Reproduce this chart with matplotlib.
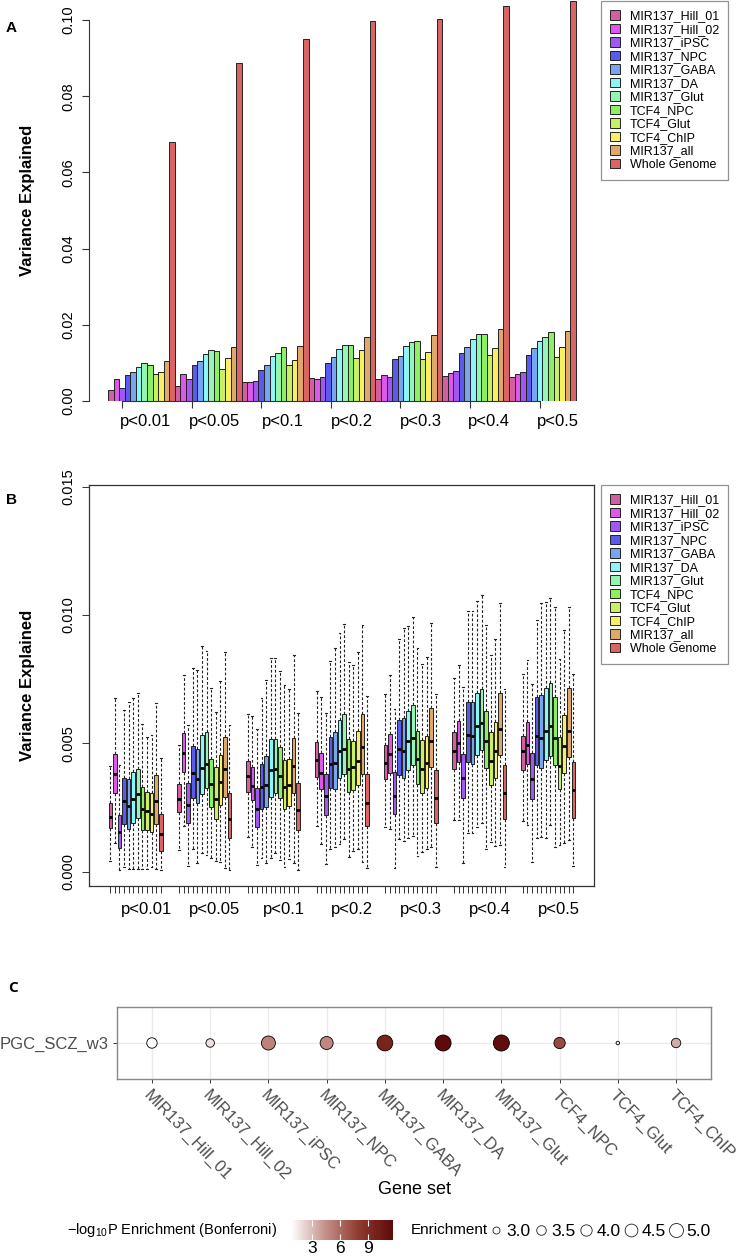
import numpy as np
import matplotlib
matplotlib.use("Agg")
import matplotlib.pyplot as plt
from matplotlib.colors import LinearSegmentedColormap, Normalize
from matplotlib.lines import Line2D
from matplotlib.patches import Patch

plt.rcParams["font.family"] = ["Liberation Sans", "DejaVu Sans"]
plt.rcParams["mathtext.fontset"] = "custom"
plt.rcParams["mathtext.rm"] = "Liberation Sans"

# ---- data -------------------------------------------------------------
thresholds = ["p<0.01", "p<0.05", "p<0.1", "p<0.2", "p<0.3", "p<0.4", "p<0.5"]
gene_sets = ["MIR137_Hill_01", "MIR137_Hill_02", "MIR137_iPSC", "MIR137_NPC",
             "MIR137_GABA", "MIR137_DA", "MIR137_Glut", "TCF4_NPC",
             "TCF4_Glut", "TCF4_ChIP", "MIR137_all", "Whole Genome"]
set_colors = ["#D35FA0", "#DD58E8", "#A058F0", "#5A5AEE", "#78A5F0", "#8CF5F5",
              "#95F5B2", "#8CF062", "#C8F062", "#F8F062", "#E0A868", "#D86464"]

# panel A: variance explained, one row per threshold
var_p001 = [0.0029, 0.0059, 0.0035, 0.0067, 0.0075, 0.0090, 0.0099, 0.0094, 0.0070, 0.0075, 0.0104, 0.0680]
var_p005 = [0.0039, 0.0070, 0.0058, 0.0095, 0.0104, 0.0124, 0.0134, 0.0130, 0.0083, 0.0114, 0.0143, 0.0887]
var_p01 = [0.0051, 0.0049, 0.0053, 0.0081, 0.0095, 0.0119, 0.0125, 0.0141, 0.0094, 0.0107, 0.0144, 0.0949]
var_p02 = [0.0060, 0.0057, 0.0063, 0.0100, 0.0116, 0.0136, 0.0146, 0.0146, 0.0113, 0.0134, 0.0167, 0.0997]
var_p03 = [0.0058, 0.0067, 0.0062, 0.0110, 0.0117, 0.0145, 0.0156, 0.0157, 0.0111, 0.0128, 0.0173, 0.1002]
var_p04 = [0.0065, 0.0073, 0.0078, 0.0125, 0.0143, 0.0162, 0.0175, 0.0177, 0.0120, 0.0138, 0.0188, 0.1038]
var_p05 = [0.0063, 0.0072, 0.0077, 0.0122, 0.0139, 0.0157, 0.0168, 0.0180, 0.0115, 0.0143, 0.0184, 0.1049]

# panel B: box statistics (rows = thresholds, cols = gene sets)
box_whishi = [
    [0.00412, 0.00678, 0.00416, 0.00630, 0.00661, 0.00675, 0.00695, 0.00574, 0.00526, 0.00532, 0.00658, 0.00443],
    [0.00492, 0.00766, 0.00570, 0.00792, 0.00784, 0.00877, 0.00860, 0.00714, 0.00622, 0.00744, 0.00855, 0.00571],
    [0.00613, 0.00606, 0.00555, 0.00678, 0.00747, 0.00831, 0.00831, 0.00782, 0.00727, 0.00712, 0.00843, 0.00618],
    [0.00705, 0.00682, 0.00617, 0.00822, 0.00870, 0.00929, 0.00965, 0.00816, 0.00804, 0.00857, 0.00961, 0.00684],
    [0.00691, 0.00766, 0.00632, 0.00905, 0.00948, 0.00957, 0.00992, 0.00870, 0.00809, 0.00835, 0.00970, 0.00691],
    [0.00753, 0.00803, 0.00721, 0.01017, 0.01017, 0.01056, 0.01078, 0.00961, 0.00842, 0.00905, 0.01045, 0.00710],
    [0.00770, 0.00825, 0.00730, 0.00981, 0.01045, 0.01049, 0.01065, 0.01029, 0.00829, 0.00942, 0.01032, 0.00769],
]
box_q3 = [
    [0.00266, 0.00457, 0.00219, 0.00365, 0.00362, 0.00387, 0.00401, 0.00329, 0.00310, 0.00305, 0.00377, 0.00223],
    [0.00340, 0.00539, 0.00344, 0.00490, 0.00478, 0.00531, 0.00542, 0.00439, 0.00409, 0.00455, 0.00523, 0.00308],
    [0.00431, 0.00409, 0.00327, 0.00418, 0.00451, 0.00516, 0.00516, 0.00484, 0.00435, 0.00438, 0.00522, 0.00344],
    [0.00504, 0.00464, 0.00379, 0.00523, 0.00545, 0.00591, 0.00613, 0.00516, 0.00510, 0.00549, 0.00613, 0.00381],
    [0.00494, 0.00536, 0.00387, 0.00591, 0.00597, 0.00626, 0.00649, 0.00549, 0.00513, 0.00530, 0.00636, 0.00394],
    [0.00542, 0.00587, 0.00458, 0.00662, 0.00660, 0.00695, 0.00712, 0.00627, 0.00542, 0.00582, 0.00695, 0.00416],
    [0.00530, 0.00584, 0.00461, 0.00682, 0.00688, 0.00717, 0.00734, 0.00682, 0.00523, 0.00610, 0.00714, 0.00426],
]
box_med = [
    [0.00212, 0.00379, 0.00153, 0.00275, 0.00256, 0.00282, 0.00301, 0.00242, 0.00235, 0.00223, 0.00275, 0.00145],
    [0.00284, 0.00461, 0.00260, 0.00386, 0.00362, 0.00405, 0.00419, 0.00343, 0.00283, 0.00349, 0.00400, 0.00205],
    [0.00373, 0.00335, 0.00244, 0.00331, 0.00336, 0.00396, 0.00399, 0.00373, 0.00329, 0.00336, 0.00412, 0.00239],
    [0.00435, 0.00386, 0.00295, 0.00418, 0.00425, 0.00468, 0.00477, 0.00400, 0.00406, 0.00431, 0.00487, 0.00269],
    [0.00425, 0.00457, 0.00296, 0.00477, 0.00471, 0.00509, 0.00519, 0.00438, 0.00399, 0.00425, 0.00509, 0.00288],
    [0.00470, 0.00500, 0.00364, 0.00532, 0.00530, 0.00568, 0.00578, 0.00510, 0.00429, 0.00470, 0.00556, 0.00308],
    [0.00470, 0.00494, 0.00361, 0.00530, 0.00522, 0.00549, 0.00568, 0.00522, 0.00413, 0.00490, 0.00549, 0.00318],
]
box_q1 = [
    [0.00169, 0.00308, 0.00091, 0.00184, 0.00166, 0.00188, 0.00209, 0.00164, 0.00164, 0.00153, 0.00186, 0.00081],
    [0.00232, 0.00387, 0.00188, 0.00288, 0.00266, 0.00301, 0.00325, 0.00251, 0.00204, 0.00260, 0.00292, 0.00131],
    [0.00309, 0.00279, 0.00173, 0.00244, 0.00251, 0.00292, 0.00308, 0.00286, 0.00243, 0.00256, 0.00308, 0.00162],
    [0.00368, 0.00321, 0.00221, 0.00325, 0.00321, 0.00364, 0.00381, 0.00312, 0.00316, 0.00338, 0.00381, 0.00179],
    [0.00360, 0.00383, 0.00225, 0.00377, 0.00364, 0.00396, 0.00416, 0.00340, 0.00308, 0.00327, 0.00409, 0.00191],
    [0.00400, 0.00426, 0.00286, 0.00426, 0.00419, 0.00455, 0.00474, 0.00405, 0.00338, 0.00366, 0.00455, 0.00204],
    [0.00396, 0.00419, 0.00283, 0.00416, 0.00403, 0.00435, 0.00452, 0.00416, 0.00321, 0.00386, 0.00448, 0.00210],
]
box_whislo = [
    [0.00043, 0.00113, 0.00006, 0.00017, 0.00010, 0.00010, 0.00010, 0.00010, 0.00010, 0.00019, 0.00010, 0.00006],
    [0.00084, 0.00178, 0.00022, 0.00087, 0.00032, 0.00071, 0.00065, 0.00052, 0.00043, 0.00039, 0.00013, 0.00006],
    [0.00136, 0.00094, 0.00026, 0.00055, 0.00032, 0.00055, 0.00071, 0.00045, 0.00019, 0.00048, 0.00032, 0.00006],
    [0.00178, 0.00108, 0.00029, 0.00088, 0.00094, 0.00108, 0.00127, 0.00056, 0.00081, 0.00088, 0.00039, 0.00013],
    [0.00175, 0.00166, 0.00016, 0.00126, 0.00121, 0.00130, 0.00140, 0.00062, 0.00078, 0.00087, 0.00094, 0.00019],
    [0.00201, 0.00201, 0.00032, 0.00152, 0.00152, 0.00175, 0.00188, 0.00087, 0.00117, 0.00100, 0.00104, 0.00017],
    [0.00197, 0.00182, 0.00036, 0.00132, 0.00136, 0.00130, 0.00182, 0.00094, 0.00104, 0.00113, 0.00123, 0.00022],
]

# panel C: enrichment of PGC SCZ wave 3 in the 10 gene sets
c_sets = gene_sets[:10]
c_trait = "PGC_SCZ_w3"
c_enrichment = [3.72, 3.26, 5.00, 4.59, 5.80, 5.90, 5.94, 3.99, 2.75, 3.46]
c_neglog10p = [0.75, 1.8, 5.0, 4.8, 9.7, 11.68, 11.4, 7.3, 1.3, 3.5]
size_breaks = [3.0, 3.5, 4.0, 4.5, 5.0]
color_breaks = [3, 6, 9]

# ---- layout helpers (figure pixels -> fractions) ----------------------
W, H = 736, 1258
fig = plt.figure(figsize=(W / 100, H / 100), dpi=100)


def rect(x0, y0, x1, y1):
    return [x0 / W, 1 - y1 / H, (x1 - x0) / W, (y1 - y0) / H]


AXC = "#333333"
n_sets = len(gene_sets)
n_thr = len(thresholds)

# ---- panel A: grouped bars --------------------------------------------
axA = fig.add_axes(rect(89.3, 0, 594.6, 401))
var_rows = [var_p001, var_p005, var_p01, var_p02, var_p03, var_p04, var_p05]
for g, row in enumerate(var_rows):
    xs = g * n_sets + np.arange(n_sets) + 0.5
    axA.bar(xs, row, width=1.0, color=set_colors, edgecolor="#222222", linewidth=0.7)
axA.set_xlim(-3.36, n_thr * n_sets + 3.36)
axA.set_ylim(0, 0.10525)
for s in ("top", "right"):
    axA.spines[s].set_visible(False)
tickA = 2.5 + 12.5 * np.arange(n_thr)
axA.spines["left"].set_bounds(0, 0.10)
axA.spines["bottom"].set_bounds(tickA[0], tickA[-1])
for s in ("left", "bottom"):
    axA.spines[s].set_color(AXC)
    axA.spines[s].set_linewidth(0.8)
axA.set_yticks(np.arange(0, 0.101, 0.02))
axA.set_yticklabels([f"{v:.2f}" for v in np.arange(0, 0.101, 0.02)],
                    rotation=90, va="center", fontsize=10.5)
axA.set_xticks(tickA)
axA.set_xticklabels([])
axA.tick_params(length=5, width=0.8, color=AXC, pad=5)
labposA = 6.8 + 12.33 * np.arange(n_thr)
for x, t in zip(labposA, thresholds):
    axA.annotate(t, (x, 0), xycoords=("data", "axes fraction"), xytext=(0, -14.5),
                 textcoords="offset points", ha="center", va="center", fontsize=12)
axA.set_ylabel("Variance Explained", fontsize=12, fontweight="bold")
axA.yaxis.set_label_coords(-0.108, 0.5)

# ---- panel B: grouped boxplots ----------------------------------------
axB = fig.add_axes(rect(89.3, 485, 594.3, 886))
stats, pos, fcs = [], [], []
for g in range(n_thr):
    for j in range(n_sets):
        stats.append(dict(whislo=box_whislo[g][j], q1=box_q1[g][j], med=box_med[g][j],
                          q3=box_q3[g][j], whishi=box_whishi[g][j]))
        pos.append(1 + 15 * g + j)
        fcs.append(set_colors[j])
bp = axB.bxp(stats, positions=pos, widths=0.78, capwidths=0.4, showfliers=False,
             patch_artist=True,
             boxprops=dict(edgecolor="#222222", linewidth=0.7),
             medianprops=dict(color="black", linewidth=2.0, solid_capstyle="butt"),
             whiskerprops=dict(color="#222222", linewidth=0.8, linestyle=(0, (2.5, 1.8))),
             capprops=dict(color="#222222", linewidth=0.8))
for patch, fc in zip(bp["boxes"], fcs):
    patch.set_facecolor(fc)
axB.set_xlim(-3.58, 106.58)
axB.set_ylim(-0.00056, 0.01506)
for s in axB.spines.values():
    s.set_color(AXC)
    s.set_linewidth(0.9)
axB.set_yticks([0, 0.005, 0.010, 0.015])
axB.set_yticklabels(["0.000", "0.005", "0.010", "0.015"], rotation=90, va="center",
                    fontsize=10.5)
axB.set_xticks(pos)
axB.set_xticklabels([])
axB.tick_params(length=5, width=0.7, color=AXC, pad=5)
labposB = 1 + 15 * np.arange(n_thr) + 7.8
for x, t in zip(labposB, thresholds):
    axB.annotate(t, (x, 0), xycoords=("data", "axes fraction"), xytext=(0, -17),
                 textcoords="offset points", ha="center", va="center", fontsize=12)
axB.set_ylabel("Variance Explained", fontsize=12, fontweight="bold")
axB.yaxis.set_label_coords(-0.108, 0.5)

# shared legends for A and B
handles = [Patch(facecolor=c, edgecolor="#222222", linewidth=0.7) for c in set_colors]
for top in (1, 485):
    leg = fig.legend(handles, gene_sets, loc="upper left",
                     bbox_to_anchor=(601 / W, 1 - top / H), fontsize=9,
                     frameon=True, fancybox=False, handlelength=0.75, handleheight=0.75,
                     handletextpad=0.8, labelspacing=0.12, borderpad=0.75,
                     borderaxespad=0)
    leg.get_frame().set_edgecolor("#777777")
    leg.get_frame().set_linewidth(0.9)

fig.text(6 / W, 1 - 28 / H, "A", fontsize=11, fontweight="bold", va="center")
fig.text(6 / W, 1 - 500 / H, "B", fontsize=11, fontweight="bold", va="center")

# ---- panel C: enrichment dot plot -------------------------------------
cmap = LinearSegmentedColormap.from_list("enr", ["#FFFFFF", "#C4918A", "#8E3A2E", "#5E0A0A"],
                                         N=256)
norm = Normalize(min(c_neglog10p), max(c_neglog10p))
emin, emax = min(c_enrichment), max(c_enrichment)


def dot_diam(v):
    # diameter in points, area-scaled like ggplot's scale_size
    t = np.clip((np.asarray(v) - emin) / (emax - emin), 0, 1)
    return (3.5 + 12.5 * np.sqrt(t)) * 0.72


axC = fig.add_axes(rect(117, 1007, 711, 1079))
xc = np.arange(1, len(c_sets) + 1)
axC.scatter(xc, np.ones(len(xc)), s=dot_diam(c_enrichment) ** 2, c=c_neglog10p, cmap=cmap,
            norm=norm, edgecolors="black", linewidths=0.6, zorder=3)
axC.set_xlim(0.4, len(c_sets) + 0.6)
axC.set_ylim(0.4, 1.6)
axC.set_xticks(xc)
axC.set_yticks([1])
axC.set_yticklabels([c_trait], fontsize=12, color="#4D4D4D")
axC.set_xticklabels(c_sets, rotation=-46, ha="left", va="top", rotation_mode="anchor",
                    fontsize=12, color="#4D4D4D")
axC.grid(True, color="#EBEBEB", linewidth=1.0, zorder=0)
axC.set_axisbelow(True)
axC.tick_params(length=3, width=0.7, color="#333333", pad=3)
for s in axC.spines.values():
    s.set_color("#888888")
    s.set_linewidth(1.0)
fig.text(414 / W, 1 - 1190 / H, "Gene set", fontsize=13, ha="center", va="center")
fig.text(8 / W, 1 - 988 / H, "C", fontsize=11, fontweight="bold", va="center",
         family=["Open Sans", "DejaVu Sans"])

# colour legend
fig.text(277 / W, 1 - 1230 / H, "\u2212log$_{\\mathregular{10}}$P Enrichment (Bonferroni)",
         fontsize=10.5, ha="right", va="center")
cax = fig.add_axes(rect(291, 1220, 393, 1240))
sm = plt.cm.ScalarMappable(norm=norm, cmap=cmap)
cb = fig.colorbar(sm, cax=cax, orientation="horizontal", ticks=color_breaks)
cb.outline.set_visible(False)
cax.tick_params(direction="in", length=4, width=0.8, color="white", top=True,
                bottom=True, labelsize=12.5, pad=1)
cax.set_xticklabels([str(v) for v in color_breaks])

# size legend
fig.text(411 / W, 1 - 1230 / H, "Enrichment", fontsize=11, ha="left", va="center")
size_handles = [Line2D([], [], linestyle="none", marker="o", markersize=d,
                       markerfacecolor="white", markeredgecolor="#222222",
                       markeredgewidth=0.6) for d in dot_diam(size_breaks)]
fig.legend(size_handles, [f"{v:.1f}" for v in size_breaks], loc="center left",
           bbox_to_anchor=(489 / W, 1 - 1231 / H), ncol=len(size_breaks), frameon=False,
           fontsize=12.5, handlelength=0.8, handletextpad=0.2, columnspacing=0.2,
           borderaxespad=0, borderpad=0)

fig.savefig("out.png", dpi=100, facecolor="white")
